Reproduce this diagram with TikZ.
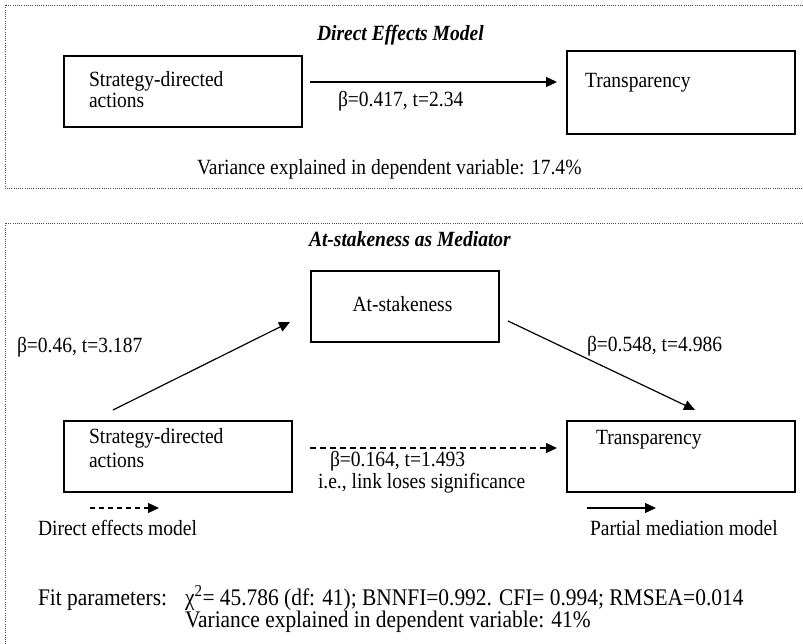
\documentclass[tikz,border=0pt]{standalone}
\usepackage{fontspec}
\setmainfont{Liberation Serif}[FakeStretch=0.9]
\usetikzlibrary{arrows.meta,calc}
\begin{document}
\begin{tikzpicture}[x=1bp,y=-1bp,
  every node/.style={font=\fontsize{21.7bp}{25bp}\selectfont, inner sep=0pt, outer sep=0pt},
  box/.style={draw, line width=1.3bp, rectangle},
  lbl/.style={anchor=base west},
  biglbl/.style={anchor=base west, font=\fontsize{23.8bp}{27bp}\selectfont},
  ttl/.style={anchor=base west, font=\fontsize{21.7bp}{25bp}\selectfont\bfseries\itshape},
  arr/.style={line width=1.2bp, -{Triangle[length=11bp,width=10bp]}},
  darr/.style={arr, dash pattern=on 6bp off 4bp},
  frame/.style={line width=0.8bp, black!70, dash pattern=on 1bp off 1.2bp}
]
\useasboundingbox (0,0) rectangle (803,644);
\clip (0,0) rectangle (803,644);

% ---------- top panel ----------
\draw[frame] (810,5) -- (5,5) -- (5,188) -- (810,188);
\node[ttl] (t1) at (317,41) {Direct Effects Model};
\node[box, minimum width=238bp, minimum height=71bp] (b1) at (183,91.5) {};
\node[box, minimum width=228bp, minimum height=83bp] (b2) at (681,92.5) {};
\node[lbl] (b1a) at (89,86.5) {Strategy-directed};
\node[lbl] (b1b) at (89,107.5) {actions};
\node[lbl] (b2a) at (585,87.5) {Transparency};
\draw[arr] ([shift={(8,-9.5)}]b1.east) -- ([shift={(-10,-10.5)}]b2.west);
\node[lbl] (e1) at (338,107) {β=0.417, t=2.34};
\node[lbl] (v1) at (197,174.5) {Variance explained in dependent variable: 17.4\%};

% ---------- lower panel ----------
\draw[frame] (810,223) -- (5,223) -- (5,650);
\node[ttl] (t2) at (309,246) {At-stakeness as Mediator};
\node[box, minimum width=188bp, minimum height=71bp] (s) at (405,306.5) {};
\node[anchor=base] (sa) at (402.5,311) {At-stakeness};
\node[box, minimum width=228bp, minimum height=71bp] (c1) at (178,456.5) {};
\node[box, minimum width=228bp, minimum height=71bp] (c2) at (681,456.5) {};
\node[lbl] (c1a) at (89,443.5) {Strategy-directed};
\node[lbl] (c1b) at (89,467.5) {actions};
\node[lbl] (c2a) at (596,444) {Transparency};

\draw[arr] ([shift={(-65,-11)}]c1.north) -- ([shift={(-21,15.5)}]s.west);
\draw[arr] ([shift={(9,14.5)}]s.east) -- ([shift={(14,-11)}]c2.north);
\draw[darr] ([shift={(18,-8.5)}]c1.east) -- ([shift={(-10,-8.5)}]c2.west);

\node[lbl] (e2) at (17,352) {β=0.46, t=3.187};
\node[lbl] (e3) at (587,351) {β=0.548, t=4.986};
\node[lbl] (e4) at (330,466.5) {β=0.164, t=1.493};
\node[lbl] (e5) at (318,488.5) {i.e., link loses significance};

\coordinate (l1a) at (90,508);
\coordinate (l1b) at (159,508);
\coordinate (l2a) at (587,508);
\coordinate (l2b) at (656,508);
\draw[darr, dash pattern=on 5bp off 4bp] (l1a) -- (l1b);
\draw[arr] (l2a) -- (l2b);
\node[lbl] (d1) at (38,535.5) {Direct effects model};
\node[lbl] (d2) at (590,535.5) {Partial mediation model};

\node[biglbl] (f1) at (38,605.5) {\makebox[147bp][l]{Fit parameters:}χ\textsuperscript{2}= 45.786 (df: 41); BNNFI=0.992. CFI= 0.994; RMSEA=0.014};
\node[biglbl] (f2) at (185,627) {Variance explained in dependent variable: 41\%};
\end{tikzpicture}
\end{document}
